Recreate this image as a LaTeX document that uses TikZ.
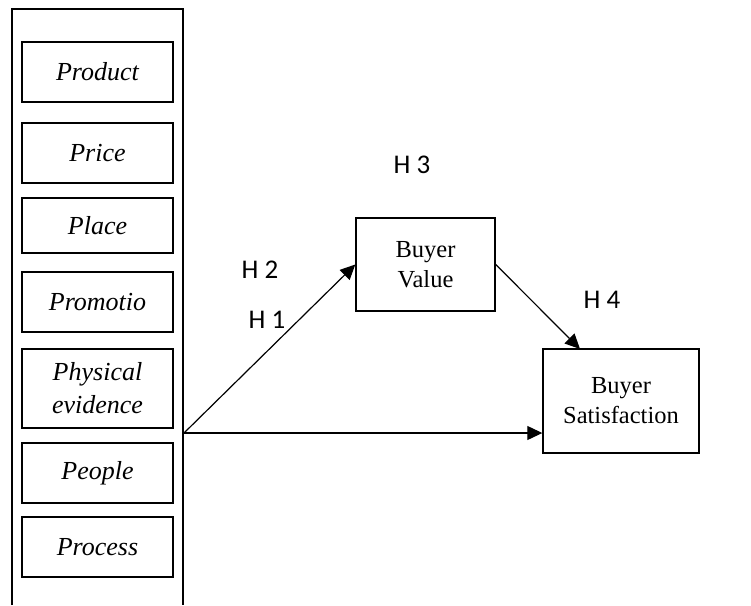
\documentclass[tikz,border=0pt]{standalone}
\usepackage{fontspec}
\setmainfont{Liberation Serif}
\newfontfamily\hfont{Carlito}
\usetikzlibrary{arrows.meta}
\begin{document}
\begin{tikzpicture}[x=1pt,y=-1pt,
  frame/.style={line width=1.5pt},
  itembox/.style={draw,line width=1.4pt,minimum width=151pt,inner sep=0pt,align=center,font=\fontsize{26}{33}\selectfont\itshape},
  varbox/.style={draw,line width=1.4pt,inner sep=0pt,align=center,font=\fontsize{24.5}{30}\selectfont},
  hyp/.style={font=\hfont\fontsize{27}{30}\selectfont,inner sep=0pt},
  arr/.style={line width=1.2pt,-{Triangle[length=15pt,width=14pt]}}]
\useasboundingbox (0,0) rectangle (751,605);
\draw[frame] (12,605) -- (12,9) -- (183,9) -- (183,605);
\node[itembox,minimum height=60pt] (product) at (97.5,72) {Product};
\node[itembox,minimum height=60pt] (price) at (97.5,153) {Price};
\node[itembox,minimum height=55pt] (place) at (97.5,225.5) {Place};
\node[itembox,minimum height=60pt] (promo) at (97.5,302) {Promotio};
\node[itembox,minimum height=79pt] (phys) at (97.5,388.5) {Physical\\evidence};
\node[itembox,minimum height=60pt] (people) at (97.5,473) {People};
\node[itembox,minimum height=60pt] (process) at (97.5,547) {Process};
\coordinate (src) at (184,433);
\node[varbox,minimum width=139pt,minimum height=93pt] (value) at (425.5,264.5) {Buyer\\Value};
\node[varbox,minimum width=156pt,minimum height=104pt] (sat) at (621,401) {Buyer\\Satisfaction};
\draw[arr] (src) -- (value.west);
\draw[arr] (src) -- (src -| sat.west);
\draw[arr] (value.east) -- (580,349);
\node[hyp] (h3) at (412,165) {H 3};
\node[hyp] (h2) at (260,270) {H 2};
\node[hyp] (h1) at (267,320) {H 1};
\node[hyp] (h4) at (602,300) {H 4};
\end{tikzpicture}
\end{document}
